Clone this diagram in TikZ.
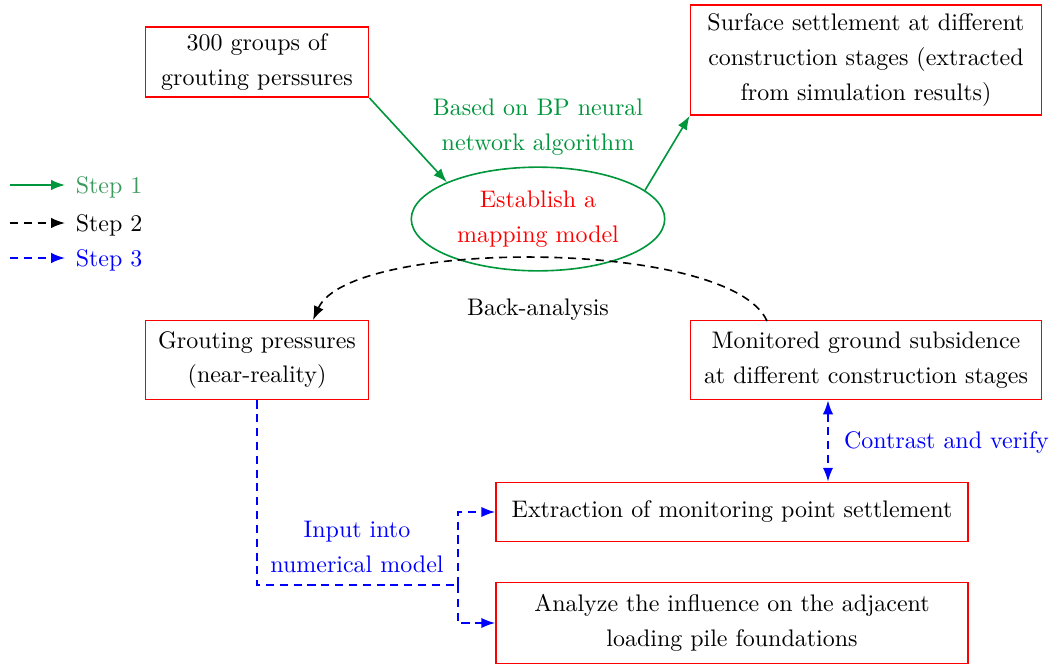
\documentclass[tikz,border=0pt]{standalone}
\usepackage{tikz}
\usepackage{xcolor}
\definecolor{flowRed}{HTML}{FF0000}
\definecolor{flowGreen}{HTML}{00963C}
\definecolor{legGreen}{HTML}{3C9A5F}
\definecolor{flowBlue}{HTML}{0000FF}
\usetikzlibrary{arrows.meta, shapes.geometric}

\begin{document}
\begin{tikzpicture}[x=0.434pt, y=-0.434pt,
  box/.style={draw=flowRed, line width=0.8pt, align=center, inner sep=2pt,
    font=\fontsize{10.4}{15}\selectfont},
  txt/.style={align=center, font=\fontsize{10.4}{15}\selectfont},
  stepone/.style={flowGreen, line width=0.7pt, -{Latex[length=6pt,width=4.5pt]}},
  steptwo/.style={black, line width=0.7pt, dash pattern=on 3.5pt off 2.5pt, -{Latex[length=6pt,width=4.5pt]}},
  stepthree/.style={flowBlue, line width=0.7pt, dash pattern=on 3.5pt off 2.5pt, -{Latex[length=6pt,width=4.5pt]}}]
  \useasboundingbox (0,0) rectangle (1051,666);
  % boxes
  \node[box, minimum width=96.8pt, minimum height=30.4pt] (grp) at (257,62) {300 groups of\\grouting perssures};
  \node[box, minimum width=152.3pt, minimum height=47.7pt] (surf) at (866,60) {Surface settlement at different\\construction stages (extracted\\from simulation results)};
  \node[ellipse, draw=flowGreen, line width=0.7pt, minimum width=110pt, minimum height=45pt, text=flowRed, txt] (map) at (538,219) {Establish a\\mapping model};
  \node[txt, text=flowGreen] (bp) at (538,127) {Based on BP neural\\network algorithm};
  \node[box, minimum width=96.8pt, minimum height=34.3pt] (near) at (257,360) {Grouting pressures\\(near-reality)};
  \node[box, minimum width=152.3pt, minimum height=34.3pt] (mon) at (866,360) {Monitored ground subsidence\\at different construction stages};
  \node[txt] (back) at (538,310) {Back-analysis};
  \node[box, minimum width=204.8pt, minimum height=25.6pt] (ext) at (732,512) {Extraction of monitoring point settlement};
  \node[box, minimum width=204.8pt, minimum height=35.2pt] (ana) at (732,623) {Analyze the influence on the adjacent\\loading pile foundations};
  \node[txt, text=flowBlue] (inp) at (357,547) {Input into\\numerical model};
  \node[txt, text=flowBlue, anchor=west] (cmp) at (836,443) {Contrast and verify};

  % step 1
  \draw[stepone] (grp.south east) -- (map.158);
  \draw[stepone] (map.15) -- (surf.south west);

  % step 2
  \coordinate (bkS) at (767,321);
  \coordinate (bkE) at (313,320);
  \draw[steptwo] (bkS) .. controls (730,238) and (350,238) .. (bkE);

  % step 3
  \coordinate (jn) at (458,585);
  \coordinate (cv) at (828,0);
  \draw[stepthree, -] (near.south) |- (jn);
  \draw[stepthree] (jn) |- (ext.west);
  \draw[stepthree] (jn) |- (ana.west);
  \draw[stepthree, {Latex[length=6pt,width=4.5pt]}-{Latex[length=6pt,width=4.5pt]}] (cv |- mon.south) -- (cv |- ext.north);

  % legend
  \coordinate (l1a) at (10,185); \coordinate (l1b) at (65,185);
  \coordinate (l2a) at (10,223); \coordinate (l2b) at (65,223);
  \coordinate (l3a) at (10,258); \coordinate (l3b) at (65,258);
  \draw[stepone] (l1a) -- (l1b);
  \draw[steptwo] (l2a) -- (l2b);
  \draw[stepthree] (l3a) -- (l3b);
  \node[txt, anchor=west, text=legGreen, inner sep=1pt] (lg1) at (73,187) {Step 1};
  \node[txt, anchor=west, inner sep=1pt] (lg2) at (73,225) {Step 2};
  \node[txt, anchor=west, text=flowBlue, inner sep=1pt] (lg3) at (73,260) {Step 3};
\end{tikzpicture}
\end{document}
